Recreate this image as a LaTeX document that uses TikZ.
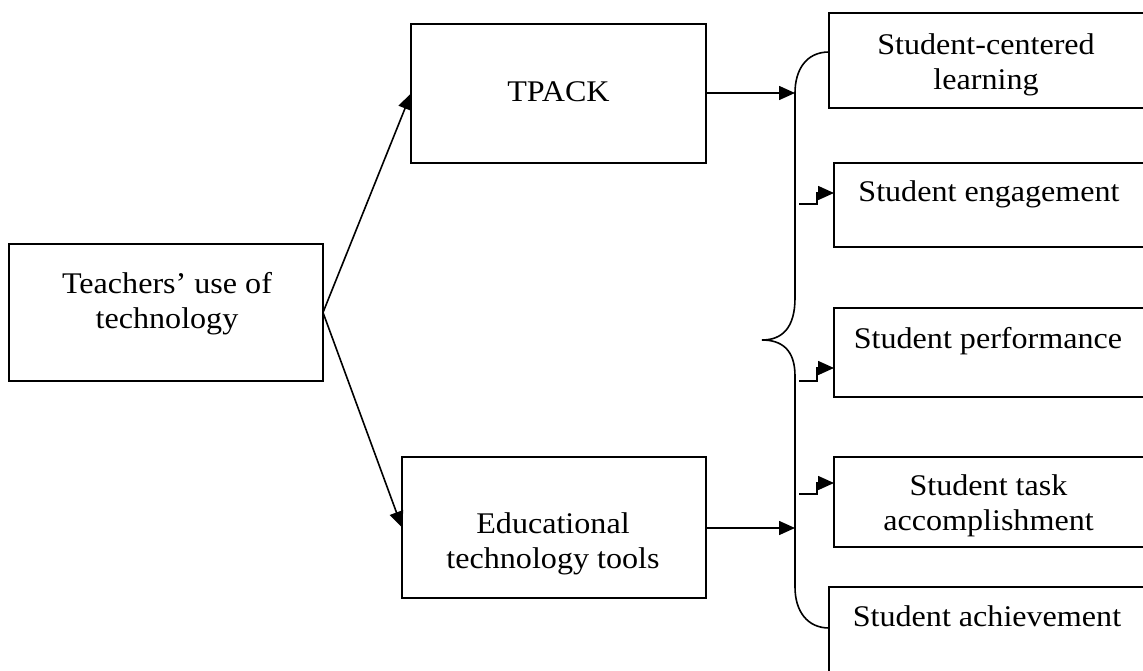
\documentclass[tikz,border=0pt]{standalone}
\usepackage{fontspec}
\setmainfont{Liberation Serif}[FakeStretch=1.07]
\usetikzlibrary{arrows.meta}
\begin{document}
\begin{tikzpicture}[x=1pt,y=-1pt,
  box/.style={draw, line width=2pt, rectangle, inner sep=0pt, outer sep=0pt},
  txt/.style={anchor=base, align=center, inner sep=0pt, font=\fontsize{30}{35}\selectfont},
  conn/.style={line width=1.6pt, -{Triangle[length=16pt,width=14pt]}},
  brace/.style={line width=1.6pt}]
\useasboundingbox (0,0) rectangle (1143,671);
\clip (0,0) rectangle (1143,671);
% left and middle boxes
\node[box, minimum width=314pt, minimum height=137pt] (teach) at (166,312.5) {};
\node[box, minimum width=295pt, minimum height=139pt] (tpack) at (558.5,93.5) {};
\node[box, minimum width=304pt, minimum height=141pt] (edu) at (554,527.5) {};
% right boxes (cut at the right edge)
\node[box, minimum width=331pt, minimum height=95pt] (scl) at (994.5,60.5) {};
\node[box, minimum width=326pt, minimum height=84pt] (eng) at (997,205) {};
\node[box, minimum width=326pt, minimum height=89pt] (perf) at (997,352.5) {};
\node[box, minimum width=326pt, minimum height=90pt] (task) at (997,502) {};
\node[box, minimum width=331pt, minimum height=113pt] (ach) at (994.5,643.5) {};
% texts (base = baseline of the last line)
\node[txt] (teachT) at (167,328) {Teachers’ use of\\technology};
\node[txt] (tpackT) at (558.5,102) {TPACK};
\node[txt] (eduT) at (553,568) {Educational\\technology tools};
\node[txt] (sclT) at (986,90) {Student-centered\\learning};
\node[txt] (engT) at (989,202) {Student engagement};
\node[txt] (perfT) at (988,348) {Student performance};
\node[txt] (taskT) at (988.5,530) {Student task\\accomplishment};
\node[txt] (achT) at (987,626) {Student achievement};
% brace
\coordinate (bTop) at (795,93);
\coordinate (bBot) at (795,528);
\coordinate (bMid) at (762,340);
\draw[brace] (scl.west |- 0,52) .. controls (806,52) and (795,70) .. (bTop)
  -- (795,298) .. controls (795,328) and (782,340) .. (bMid)
  .. controls (782,340) and (795,350) .. (795,376)
  -- (795,587) .. controls (795,612) and (808,628) .. (ach.west |- 0,628);
% arrows
\draw[conn] (teach.east) -- (tpack.west);
\draw[conn] (teach.east) -- (edu.west);
\draw[conn] (tpack.east |- bTop) -- (bTop);
\draw[conn] (edu.east |- bBot) -- (bBot);
% small step arrows
\coordinate (s1) at (799,204);
\coordinate (s2) at (799,381);
\coordinate (s3) at (799,494);
\draw[conn] (s1) -- (817,204) -- (817,193) -- (eng.west |- 0,193);
\draw[conn] (s2) -- (817,381) -- (817,368) -- (perf.west |- 0,368);
\draw[conn] (s3) -- (817,494) -- (817,483) -- (task.west |- 0,483);
\end{tikzpicture}
\end{document}
